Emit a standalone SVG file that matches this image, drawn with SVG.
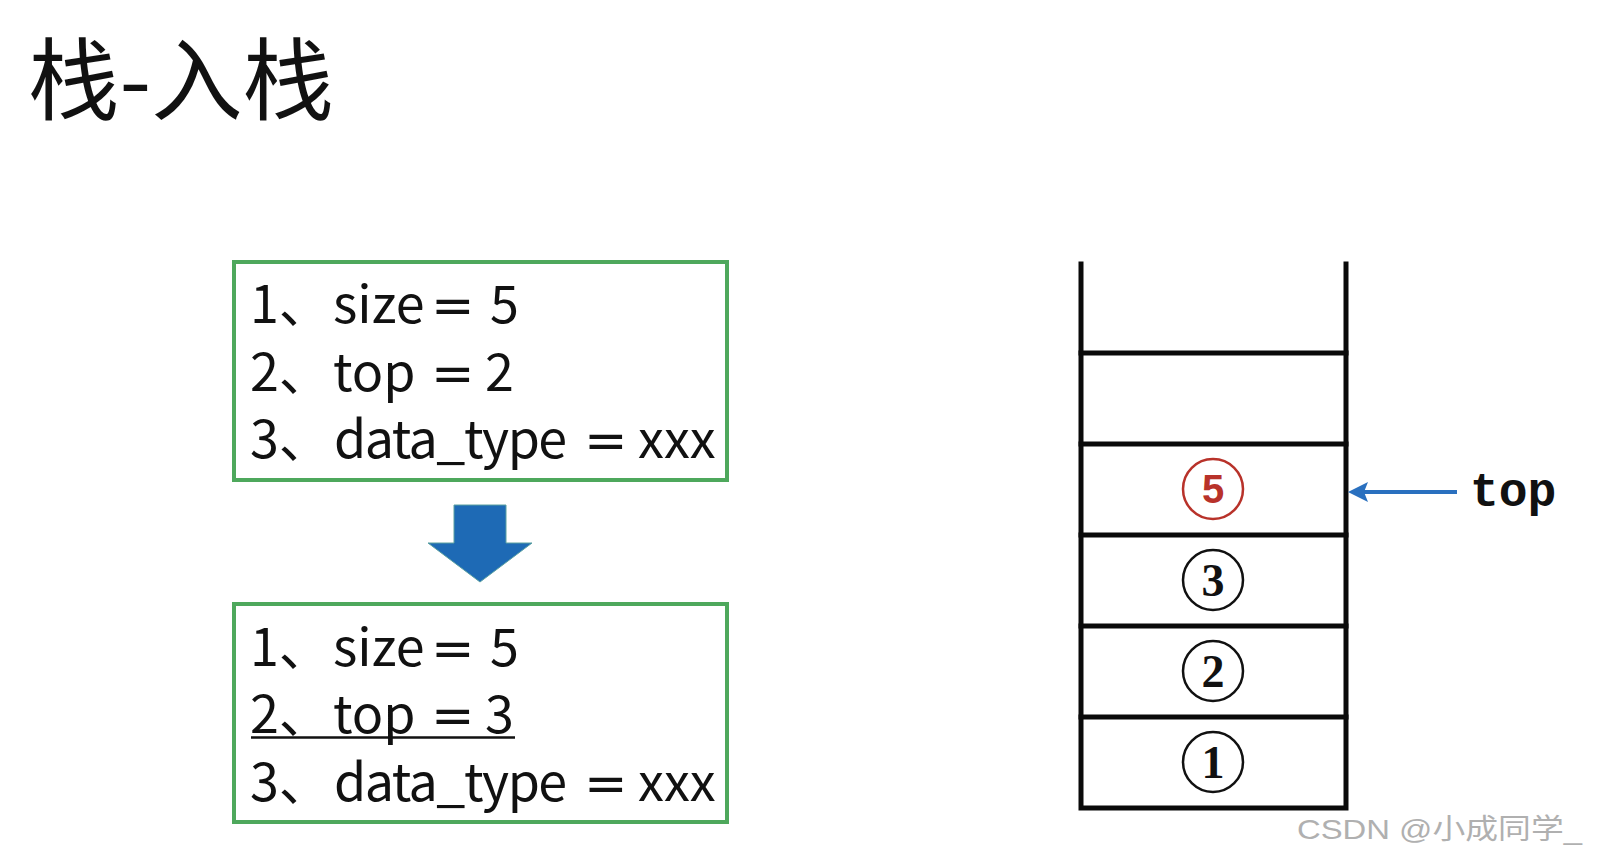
<svg xmlns="http://www.w3.org/2000/svg" width="1598" height="859" viewBox="0 0 1598 859">
<style>
.title{font-family:"Noto Sans CJK SC","Noto Sans",sans-serif;font-size:90px;fill:#111}
.box{fill:#fff;stroke:#4ea85c;stroke-width:4}
.line{font-family:"Noto Sans CJK SC","Noto Sans",sans-serif;font-size:52px;fill:#111}
.eq{font-family:"DejaVu Sans",sans-serif;font-weight:normal}
.dt{letter-spacing:-1.5px}
.wall{stroke:#0a0a0a;stroke-width:5;fill:none;stroke-linecap:square}
.circ{fill:none;stroke:#111;stroke-width:2.5}
.num{font-family:"Liberation Serif",serif;font-weight:bold;font-size:46px;fill:#111;text-anchor:middle}
.red .circ{stroke:#b8322a}
.red .num{fill:#b8322a;font-family:"Liberation Sans",sans-serif;font-size:40px}
.topl{font-family:"Liberation Mono",monospace;font-weight:bold;font-size:48px;fill:#111}
.wm{font-family:"Liberation Sans","Noto Sans CJK SC",sans-serif;font-size:28px;fill:#b0b0b0}
</style>
<rect width="1598" height="859" fill="#fff"/>
<text id="title" class="title" x="28" y="113" textLength="306" lengthAdjust="spacingAndGlyphs">栈-入栈</text>

<g id="box1">
<rect class="box" x="234" y="262" width="493" height="218"/>
<text class="line" y="323"><tspan x="250">1、</tspan><tspan x="333">size</tspan><tspan class="eq" x="431">=</tspan><tspan x="490">5</tspan></text>
<text class="line" y="391"><tspan x="250">2、</tspan><tspan x="333">top</tspan><tspan class="eq" x="431">=</tspan><tspan x="485">2</tspan></text>
<text class="line" y="458"><tspan x="250">3、</tspan><tspan class="dt" x="334">data_type</tspan><tspan class="eq" x="584">=</tspan><tspan x="638">xxx</tspan></text>
</g>

<g id="box2">
<rect class="box" x="234" y="604" width="493" height="218"/>
<text class="line" y="666"><tspan x="250">1、</tspan><tspan x="333">size</tspan><tspan class="eq" x="431">=</tspan><tspan x="490">5</tspan></text>
<text class="line" y="733"><tspan x="250">2、</tspan><tspan x="333">top</tspan><tspan class="eq" x="431">=</tspan><tspan x="485">3</tspan></text>
<line x1="251" y1="737.5" x2="515" y2="737.5" stroke="#111" stroke-width="2.5"/>
<text class="line" y="801"><tspan x="250">3、</tspan><tspan class="dt" x="334">data_type</tspan><tspan class="eq" x="584">=</tspan><tspan x="638">xxx</tspan></text>
</g>

<g id="stack">
<path class="wall" d="M1081,264 V808 H1346 V264"/>
<line class="wall" x1="1081" y1="353" x2="1346" y2="353"/>
<line class="wall" x1="1081" y1="444" x2="1346" y2="444"/>
<line class="wall" x1="1081" y1="535" x2="1346" y2="535"/>
<line class="wall" x1="1081" y1="626" x2="1346" y2="626"/>
<line class="wall" x1="1081" y1="717" x2="1346" y2="717"/>
</g>
<g id="item5" class="red">
<circle class="circ" cx="1213" cy="489" r="30"/>
<text class="num" x="1213" y="503">5</text>
</g>
<g id="item3">
<circle class="circ" cx="1213" cy="580" r="30"/>
<text class="num" x="1213" y="596">3</text>
</g>
<g id="item2">
<circle class="circ" cx="1213" cy="671" r="30"/>
<text class="num" x="1213" y="687">2</text>
</g>
<g id="item1">
<circle class="circ" cx="1213" cy="762" r="30"/>
<text class="num" x="1213" y="778">1</text>
</g>
<g id="toplabel">
<text class="topl" x="1470" y="506">top</text>
</g>

<g id="connectors">
<path d="M454,505 H506 V543 H532 L480,582 L428,543 H454 Z" fill="#1e6ab5" stroke="#5aa0a0" stroke-width="1"/>
<line x1="1457" y1="492" x2="1362" y2="492" stroke="#2a70bf" stroke-width="4"/>
<path d="M1348,492 L1368,482 L1364,492 L1368,502 Z" fill="#2a70bf"/>
</g>

<text class="wm" x="1297" y="839" textLength="285" lengthAdjust="spacingAndGlyphs">CSDN @小成同学_</text>
</svg>
